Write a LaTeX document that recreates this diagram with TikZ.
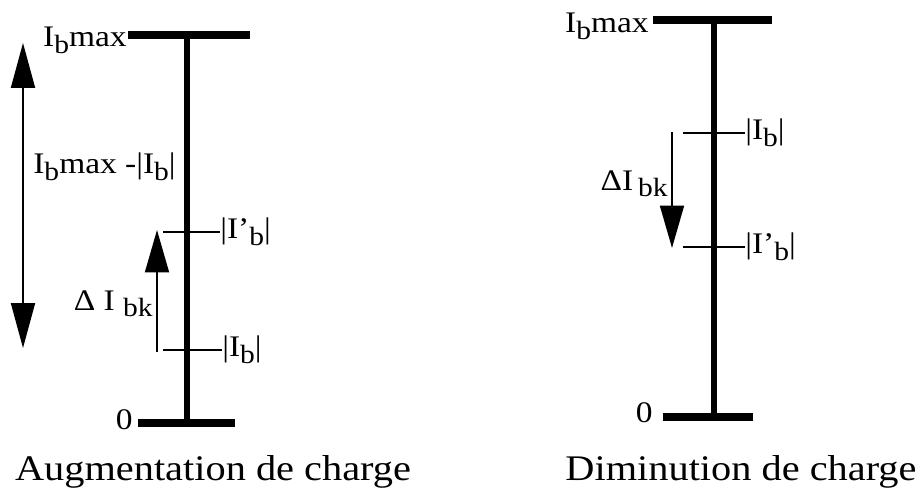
\documentclass[tikz,border=0pt]{standalone}
\usepackage{fontspec}
\setmainfont[FakeStretch=1.12]{Liberation Serif}
\usetikzlibrary{arrows.meta,positioning}

\newcommand{\lowsub}[1]{\raisebox{-0.5ex}{\fontsize{15}{15}\selectfont #1}}

\begin{document}
\begin{tikzpicture}[
  x=0.02cm, y=-0.02cm,
  bar/.style={line width=3.8pt},
  endbar/.style={line width=4.8pt},
  tick/.style={line width=1.4pt},
  arr/.style={line width=1.1pt, -{Triangle[length=0.85cm, width=0.48cm]}},
  dblarr/.style={line width=1.1pt,
                 {Triangle[length=0.9cm, width=0.48cm]}-{Triangle[length=0.9cm, width=0.48cm]}},
  lbl/.style={font=\fontsize{17}{18}\selectfont, inner sep=0pt},
  capt/.style={font=\fontsize{20.5}{24}\selectfont, inner sep=0pt}
]
  \useasboundingbox (0,0) rectangle (919,500);

  % Augmentation de charge
  \coordinate (LT)  at (187,35);
  \coordinate (LB)  at (187,423);
  \coordinate (LTa) at (128,35);
  \coordinate (LTb) at (250,35);
  \coordinate (LBa) at (138,423);
  \coordinate (LBb) at (235,423);
  \draw[bar] (LT) -- (LB);
  \draw[endbar] (LTa) -- (LTb);
  \draw[endbar] (LBa) -- (LBb);

  \node[lbl, anchor=base east] (Lmax)  at (127,47)  {I\lowsub{b}max};
  \node[lbl, anchor=east]      (Lzero) at (133,420) {0};
  \node[lbl, anchor=west]      (Lnew)  at (220,232) {|I'\lowsub{b}|};
  \node[lbl, anchor=west]      (Lold)  at (222,350) {|I\lowsub{b}|};

  \coordinate (Lnew0) at (163,232);
  \coordinate (Lold0) at (163,350);
  \draw[tick] (Lnew0) -- (Lnew.west);
  \draw[tick] (Lold0) -- (Lold.west);

  \coordinate (LupT) at (23,43);
  \coordinate (LupB) at (23,348);
  \draw[dblarr] (LupT) -- (LupB);
  \node[lbl, anchor=west] (Lgap) at (33,167) {I\lowsub{b}max -|I\lowsub{b}|};

  \coordinate (LdA) at (157,352);
  \coordinate (LdB) at (157,230);
  \draw[arr] (LdA) -- (LdB);
  \node[lbl, anchor=base east] (Ldelta) at (153,310) {Δ I \lowsub{bk}};

  \node[capt, anchor=base] (Lcapt) at (213,480) {Augmentation de charge};

  % Diminution de charge
  \coordinate (RT)  at (714,20);
  \coordinate (RB)  at (714,417);
  \coordinate (RTa) at (653,20);
  \coordinate (RTb) at (772,20);
  \coordinate (RBa) at (663,417);
  \coordinate (RBb) at (753,417);
  \draw[bar] (RT) -- (RB);
  \draw[endbar] (RTa) -- (RTb);
  \draw[endbar] (RBa) -- (RBb);

  \node[lbl, anchor=base east] (Rmax)  at (649,33)  {I\lowsub{b}max};
  \node[lbl, anchor=east]      (Rzero) at (653,413) {0};
  \node[lbl, anchor=west]      (Rold)  at (745,133) {|I\lowsub{b}|};
  \node[lbl, anchor=west]      (Rnew)  at (745,247) {|I'\lowsub{b}|};

  \coordinate (Rold0) at (683,133);
  \coordinate (Rnew0) at (683,247);
  \draw[tick] (Rold0) -- (Rold.west);
  \draw[tick] (Rnew0) -- (Rnew.west);

  \coordinate (RdA) at (672,132);
  \coordinate (RdB) at (672,248);
  \draw[arr] (RdA) -- (RdB);
  \node[lbl, anchor=base east] (Rdelta) at (668,190) {ΔI\,\lowsub{bk}};

  \node[capt, anchor=base] (Rcapt) at (741,480) {Diminution de charge};
\end{tikzpicture}
\end{document}
